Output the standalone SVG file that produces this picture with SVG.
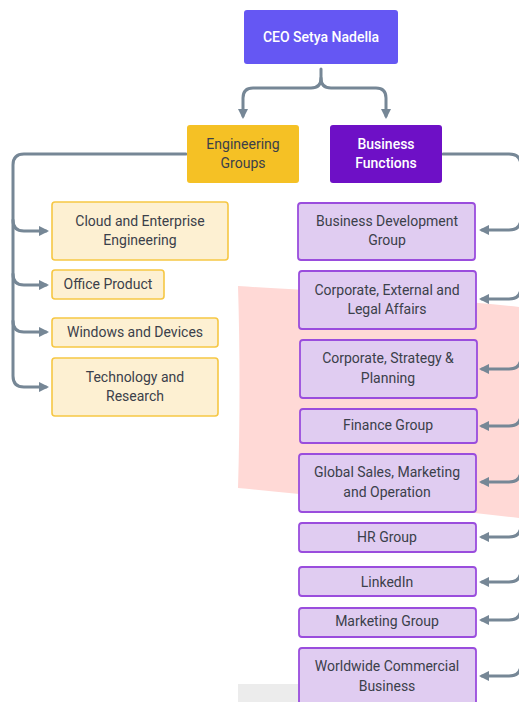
<svg xmlns="http://www.w3.org/2000/svg" width="519" height="702" viewBox="0 0 519 702">
  <style>
    text { font-family: Roboto, "Noto Sans", "Liberation Sans", sans-serif; font-size: 14px; text-anchor: middle; fill: #3b404a; }
    .light { fill: #ffffff; font-weight: 500; }
    .eng rect { fill: #fdf0d2; stroke: #f6c744; stroke-width: 1.6; }
    .biz rect { fill: #e0ccf1; stroke: #9a4ddd; stroke-width: 1.8; }
    .wire { fill: none; stroke: #768796; stroke-width: 3; stroke-linecap: round; stroke-linejoin: round; }
  </style>
  <defs>
    <marker id="arrow" viewBox="0 0 10 10" refX="7" refY="5" markerWidth="3.4" markerHeight="3.4" orient="auto" markerUnits="strokeWidth">
      <path d="M0 0 L10 5 L0 10 z" fill="#768796"/>
    </marker>
  </defs>

  <!-- background shapes -->
  <path d="M238 286 C300 290 420 296 519 307 L519 518 C430 508 320 496 238 488 C240 420 240 350 238 286 Z" fill="#ffd9d6"/>
  <rect x="238" y="684" width="70" height="18" fill="#ececec"/>

  <!-- connectors -->
  <g id="connectors" class="wire">
    <path d="M321 69 V78 Q321 88 311 88 H253 Q243 88 243 98 V116" marker-end="url(#arrow)"/>
    <path d="M321 78 Q321 88 331 88 H376 Q386 88 386 98 V116" marker-end="url(#arrow)"/>
    <!-- engineering branch -->
    <path d="M186 154 H24 Q13 154 13 165 V376 Q13 387 24 387 H46" marker-end="url(#arrow)"/>
    <path d="M13 220 Q13 231 24 231 H46" marker-end="url(#arrow)"/>
    <path d="M13 274 Q13 285 24 285 H46" marker-end="url(#arrow)"/>
    <path d="M13 321 Q13 332 24 332 H46" marker-end="url(#arrow)"/>
    <!-- business branch -->
    <path d="M443 154 H509 Q521 154 521 166 V664 Q521 676 509 676 H482" marker-end="url(#arrow)"/>
    <path d="M521 218 Q521 230 509 230 H482" marker-end="url(#arrow)"/>
    <path d="M521 287 Q521 299 509 299 H482" marker-end="url(#arrow)"/>
    <path d="M521 357 Q521 369 509 369 H482" marker-end="url(#arrow)"/>
    <path d="M521 414 Q521 426 509 426 H482" marker-end="url(#arrow)"/>
    <path d="M521 470 Q521 482 509 482 H482" marker-end="url(#arrow)"/>
    <path d="M521 525 Q521 537 509 537 H482" marker-end="url(#arrow)"/>
    <path d="M521 570 Q521 582 509 582 H482" marker-end="url(#arrow)"/>
    <path d="M521 608 Q521 620 509 620 H482" marker-end="url(#arrow)"/>
  </g>

  <!-- top level -->
  <g id="ceo">
    <rect x="244" y="10" width="154" height="54" rx="3" fill="#6557f3"/>
    <text class="light" x="321" y="42">CEO Setya Nadella</text>
  </g>
  <g id="engineering-groups">
    <rect x="187" y="125" width="112" height="58" rx="3" fill="#f5c125"/>
    <text x="243" y="149">Engineering</text>
    <text x="243" y="168">Groups</text>
  </g>
  <g id="business-functions">
    <rect x="330" y="125" width="112" height="58" rx="3" fill="#6e10c6"/>
    <text class="light" x="386" y="149">Business</text>
    <text class="light" x="386" y="168">Functions</text>
  </g>

  <!-- engineering groups -->
  <g id="cloud" class="eng">
    <rect x="52" y="202" width="176" height="58" rx="3"/>
    <text x="140" y="226">Cloud and Enterprise</text>
    <text x="140" y="245">Engineering</text>
  </g>
  <g id="office" class="eng">
    <rect x="52" y="270" width="112" height="29" rx="3"/>
    <text x="108" y="289">Office Product</text>
  </g>
  <g id="windows" class="eng">
    <rect x="52" y="318" width="166" height="29" rx="3"/>
    <text x="135" y="337">Windows and Devices</text>
  </g>
  <g id="technology" class="eng">
    <rect x="52" y="358" width="166" height="58" rx="3"/>
    <text x="135" y="382">Technology and</text>
    <text x="135" y="401">Research</text>
  </g>

  <!-- business functions -->
  <g id="business-development" class="biz">
    <rect x="298" y="203" width="177" height="57" rx="3"/>
    <text x="387" y="226">Business Development</text>
    <text x="387" y="245">Group</text>
  </g>
  <g id="corporate-external" class="biz">
    <rect x="299" y="271" width="177" height="58" rx="3"/>
    <text x="387" y="295">Corporate, External and</text>
    <text x="387" y="314">Legal Affairs</text>
  </g>
  <g id="corporate-strategy" class="biz">
    <rect x="300" y="340" width="177" height="58" rx="3"/>
    <text x="388" y="363">Corporate, Strategy &amp;</text>
    <text x="388" y="383">Planning</text>
  </g>
  <g id="finance" class="biz">
    <rect x="300" y="409" width="177" height="34" rx="3"/>
    <text x="388" y="430">Finance Group</text>
  </g>
  <g id="global-sales" class="biz">
    <rect x="299" y="454" width="177" height="58" rx="3"/>
    <text x="387" y="477">Global Sales, Marketing</text>
    <text x="387" y="497">and Operation</text>
  </g>
  <g id="hr" class="biz">
    <rect x="299" y="523" width="177" height="29" rx="3"/>
    <text x="387" y="542">HR Group</text>
  </g>
  <g id="linkedin" class="biz">
    <rect x="299" y="567" width="177" height="29" rx="3"/>
    <text x="387" y="587">LinkedIn</text>
  </g>
  <g id="marketing" class="biz">
    <rect x="299" y="608" width="177" height="29" rx="3"/>
    <text x="387" y="626">Marketing Group</text>
  </g>
  <g id="worldwide" class="biz">
    <rect x="299" y="648" width="177" height="60" rx="3"/>
    <text x="387" y="671">Worldwide Commercial</text>
    <text x="387" y="691">Business</text>
  </g>
</svg>
